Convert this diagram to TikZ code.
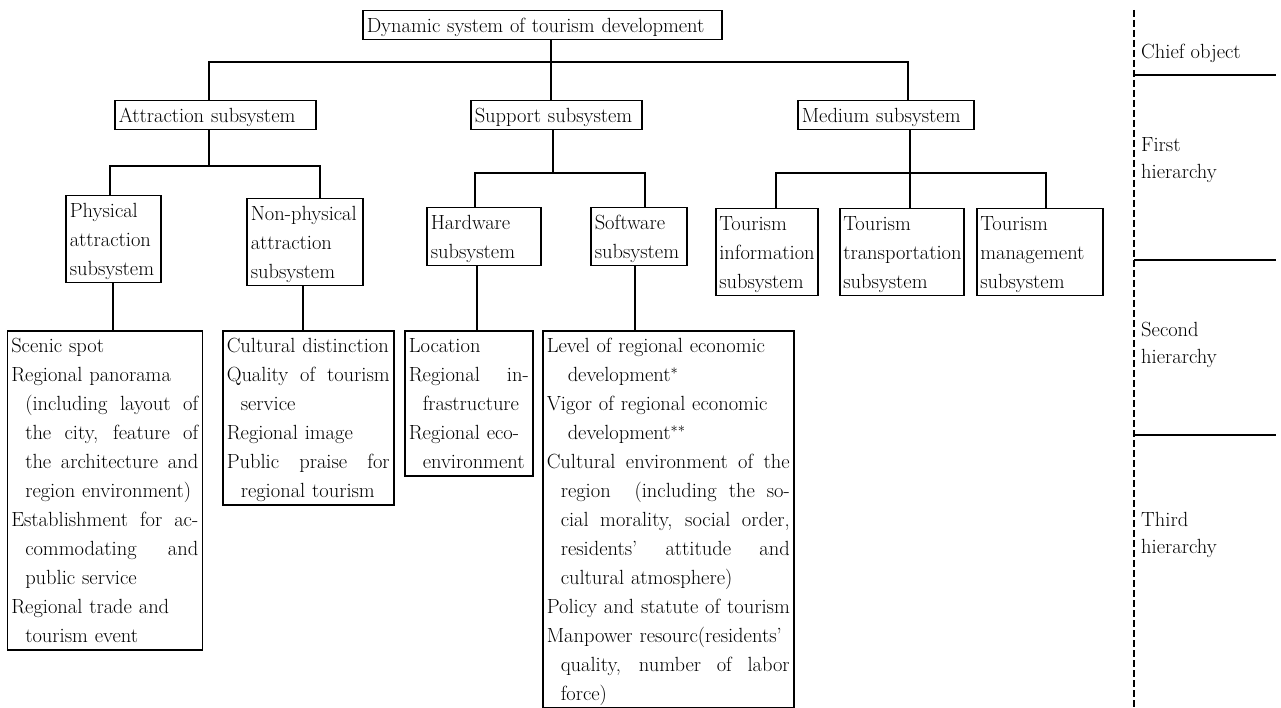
\documentclass[tikz,border=0pt]{standalone}
\newcommand\fz{\fontsize{20.5}{29}\selectfont}
\newcommand\fzl{\fontsize{20.5}{27}\selectfont}
\newcommand\stt{\rule[-7pt]{0pt}{29pt}}
\newcommand\Lplain[1]{\stt\mbox{#1}}
\newcommand\Lind[1]{\stt\hspace*{14pt}\mbox{#1}}
\newcommand\Lindd[1]{\stt\hspace*{21pt}\mbox{#1}}
\newcommand\Ljust[1]{\stt\makebox[\hsize][s]{\spaceskip=0.3333em plus 20em\xspaceskip=0.3333em plus 20em #1}}
\newcommand\Ljind[1]{\stt\hspace*{14pt}\makebox[\dimexpr\hsize-14pt\relax][s]{\spaceskip=0.3333em plus 20em\xspaceskip=0.3333em plus 20em #1}}
\tikzset{
  box/.style={draw, line width=1.5pt, inner xsep=4pt, inner ysep=0pt, anchor=north west, align=left, font=\fz},
  conn/.style={line width=1.6pt},
  lab/.style={anchor=west, align=left, font=\fzl, inner sep=0pt},
  sepline/.style={line width=1.4pt},
  dashline/.style={line width=1.4pt, dash pattern=on 7pt off 3pt}
}
\begin{document}
\begin{tikzpicture}[x=1pt,y=-1pt]
\useasboundingbox (0,0) rectangle (1281,708);
% level 0
\node[box, text width=351pt] (top) at (362,10) {\stt Dynamic system of tourism development};
% level 1
\node[box, text width=193pt] (attr) at (114,100) {\stt Attraction subsystem};
\node[box, text width=163pt] (sup) at (470,100) {\stt Support subsystem};
\node[box, text width=168pt] (med) at (797,100) {\stt Medium subsystem};
% level 2
\node[box, text width=87pt] (phys) at (65,195) {\Lplain{Physical}\\\Lplain{attraction}\\\Lplain{subsystem}};
\node[box, text width=108pt] (nphys) at (246,198) {\Lplain{Non-physical}\\\Lplain{attraction}\\\Lplain{subsystem}};
\node[box, text width=106pt] (hw) at (426,207) {\Lplain{Hardware}\\\Lplain{subsystem}};
\node[box, text width=88pt] (sw) at (590,207) {\Lplain{Software}\\\Lplain{subsystem}};
\node[box, text width=95pt, inner xsep=3.5pt] (info) at (715,208) {\Lplain{Tourism}\\\Lplain{information}\\\Lplain{subsystem}};
\node[box, text width=117pt, inner xsep=3.5pt] (trans) at (839,208) {\Lplain{Tourism}\\\Lplain{transportation}\\\Lplain{subsystem}};
\node[box, text width=119pt, inner xsep=3.5pt] (man) at (976,208) {\Lplain{Tourism}\\\Lplain{management}\\\Lplain{subsystem}};
% level 3 lists
\node[box, text width=187pt] (plist) at (6.5,330) {%
\Lplain{Scenic spot}\\
\Lplain{Regional panorama}\\
\Ljind{(including layout of}\\
\Ljind{the city, feature of}\\
\Ljind{the architecture and}\\
\Lind{region environment)}\\
\Ljust{Establishment for ac-}\\
\Ljind{commodating and}\\
\Lind{public service}\\
\Lplain{Regional trade and}\\
\Lind{tourism event}};
\node[box, text width=163pt] (nlist) at (222,330) {%
\Lplain{Cultural distinction}\\
\Ljust{Quality of tourism}\\
\Lind{service}\\
\Lplain{Regional image}\\
\Ljust{Public praise for}\\
\Lind{regional tourism}};
\node[box, text width=120pt] (hlist) at (404,330) {%
\Lplain{Location}\\
\Ljust{Regional in-}\\
\Lind{frastructure}\\
\Lplain{Regional eco-}\\
\Lind{environment}};
\node[box, text width=243pt] (slist) at (542,330) {%
\Lplain{Level of regional economic}\\
\Lindd{development$^{*}$}\\
\Lplain{Vigor of regional economic}\\
\Lindd{development$^{**}$}\\
\Ljust{Cultural environment of the}\\
\Ljind{region \ (including the so-}\\
\Ljind{cial morality, social order,}\\
\Ljind{residents' attitude and}\\
\Lind{cultural atmosphere)}\\
\Ljust{Policy and statute of tourism}\\
\Lplain{Manpower resourc(residents'}\\
\Ljind{quality, number of labor}\\
\Lind{force)}};
% junction coordinates
\coordinate (j0) at (551,62);
\coordinate (xA) at (209,0);
\coordinate (xM) at (908,0);
\coordinate (j1) at (209,166);
\coordinate (xP) at (110,0);
\coordinate (xN) at (320,0);
\coordinate (xp2) at (113,0);
\coordinate (xn2) at (303,0);
\coordinate (j2) at (553,173);
\coordinate (xH) at (475,0);
\coordinate (xS) at (645,0);
\coordinate (xh2) at (477,0);
\coordinate (xs2) at (635,0);
\coordinate (j3) at (910,173);
\coordinate (xI) at (776,0);
\coordinate (xT) at (1046,0);
% connectors
\draw[conn] (top.south -| j0) -- (sup.north -| j0);
\draw[conn] (attr.north -| xA) |- (j0) -| (med.north -| xM);
\draw[conn] (attr.south -| j1) -- (j1);
\draw[conn] (phys.north -| xP) |- (j1) -| (nphys.north -| xN);
\draw[conn] (phys.south -| xp2) -- (plist.north -| xp2);
\draw[conn] (nphys.south -| xn2) -- (nlist.north -| xn2);
\draw[conn] (sup.south -| j2) -- (j2);
\draw[conn] (hw.north -| xH) |- (j2) -| (sw.north -| xS);
\draw[conn] (hw.south -| xh2) -- (hlist.north -| xh2);
\draw[conn] (sw.south -| xs2) -- (slist.north -| xs2);
\draw[conn] (med.south -| j3) -- (trans.north -| j3);
\draw[conn] (info.north -| xI) |- (j3) -| (man.north -| xT);
% hierarchy column
\coordinate (dtop) at (1134,10);
\coordinate (dbot) at (1134,708);
\draw[dashline] (dtop) -- (dbot);
\coordinate (h1a) at (1134,75); \coordinate (h1b) at (1276,75);
\coordinate (h2a) at (1134,260); \coordinate (h2b) at (1276,260);
\coordinate (h3a) at (1134,435); \coordinate (h3b) at (1276,435);
\draw[sepline] (h1a) -- (h1b);
\draw[sepline] (h2a) -- (h2b);
\draw[sepline] (h3a) -- (h3b);
\node[lab] (l0) at (1141,53) {Chief object};
\node[lab] (l1) at (1141,160) {First\\hierarchy};
\node[lab] (l2) at (1141,345) {Second\\hierarchy};
\node[lab] (l3) at (1141,535) {Third\\hierarchy};
\end{tikzpicture}
\end{document}
